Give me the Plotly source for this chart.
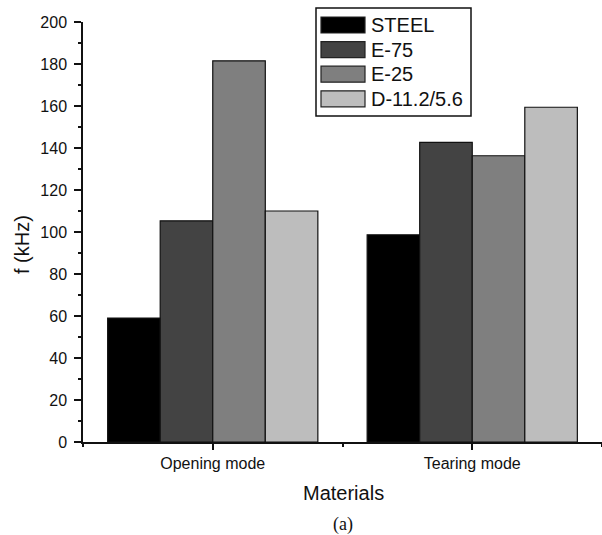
import plotly.graph_objects as go

# Loading modes (x categories) and materials (bar series)
modes = ["Opening mode", "Tearing mode"]
materials = ["STEEL", "E-75", "E-25", "D-11.2/5.6"]
steel = [59, 98.7]
e75 = [105.3, 142.7]
e25 = [181.5, 136.3]
d112 = [110, 159.4]
fills = ["#000000", "#434343", "#7f7f7f", "#bdbdbd"]

series = [steel, e75, e25, d112]

W, H = 602, 535
L, R, T, B = 83, 0, 22, 93
pw, ph = W - L - R, H - T - B


def px(x):
    return (x - L) / pw


def py(y):
    return 1 - (y - T) / ph


xpos = list(range(len(modes)))

fig = go.Figure()
for name, vals, col in zip(materials, series, fills):
    fig.add_trace(go.Bar(
        x=xpos, y=vals, name=name,
        marker=dict(color=col, line=dict(color="#111111", width=1.2)),
        showlegend=False,
    ))

font_main = "Arial, Liberation Sans, sans-serif"

# boxed legend with large swatches
shapes = [dict(type="rect", xref="paper", yref="paper",
               x0=px(316), x1=px(471), y0=py(116), y1=py(8),
               line=dict(color="#111111", width=1.5), fillcolor="white")]
annotations = []
for i, (name, col) in enumerate(zip(materials, fills)):
    top = 17 + i * 24.6
    shapes.append(dict(type="rect", xref="paper", yref="paper",
                       x0=px(321), x1=px(365), y0=py(top + 16), y1=py(top),
                       line=dict(color="#222222", width=1.2), fillcolor=col))
    annotations.append(dict(xref="paper", yref="paper", x=px(369), y=py(top + 8),
                            text=name, showarrow=False, xanchor="left", yanchor="middle",
                            font=dict(family=font_main, size=20, color="#111111")))

annotations.append(dict(xref="paper", yref="paper", x=px(22), y=py(245),
                        text="f (kHz)", textangle=-90, showarrow=False,
                        xanchor="center", yanchor="middle",
                        font=dict(family=font_main, size=20, color="#111111")))
annotations.append(dict(xref="paper", yref="paper", x=px(343), y=py(493),
                        text="Materials", showarrow=False,
                        xanchor="center", yanchor="middle",
                        font=dict(family=font_main, size=20, color="#111111")))
annotations.append(dict(xref="paper", yref="paper", x=px(343), y=py(524),
                        text="(a)", showarrow=False,
                        xanchor="center", yanchor="middle",
                        font=dict(family="Liberation Serif, Times New Roman, serif", size=18, color="#111111")))

fig.update_layout(
    width=W, height=H,
    margin=dict(l=L, r=R, t=T, b=B, pad=0),
    paper_bgcolor="white", plot_bgcolor="white",
    barmode="group", bargap=0.19, bargroupgap=0,
    shapes=shapes, annotations=annotations,
    showlegend=False,
    font=dict(family=font_main, color="#111111"),
)
fig.update_xaxes(
    range=[-0.5, 1.5], tickvals=xpos, ticktext=modes,
    showline=True, linecolor="#111111", linewidth=1.5,
    ticks="outside", ticklen=6, tickwidth=1.5, tickcolor="#111111",
    minor=dict(ticks="outside", ticklen=3, tickwidth=1.5, tickcolor="#111111",
               tick0=0.5, dtick=1),
    showgrid=False, zeroline=False,
    tickfont=dict(size=16, family=font_main),
)
fig.update_yaxes(
    range=[0, 200], dtick=20, tick0=0,
    showline=True, linecolor="#111111", linewidth=1.5,
    ticks="outside", ticklen=7, tickwidth=1.5, tickcolor="#111111",
    minor=dict(ticks="outside", ticklen=3, tickwidth=1.5, tickcolor="#111111", dtick=10),
    showgrid=False, zeroline=False, ticklabelstandoff=4,
    tickfont=dict(size=16, family=font_main),
)

fig.write_html("out.html")
